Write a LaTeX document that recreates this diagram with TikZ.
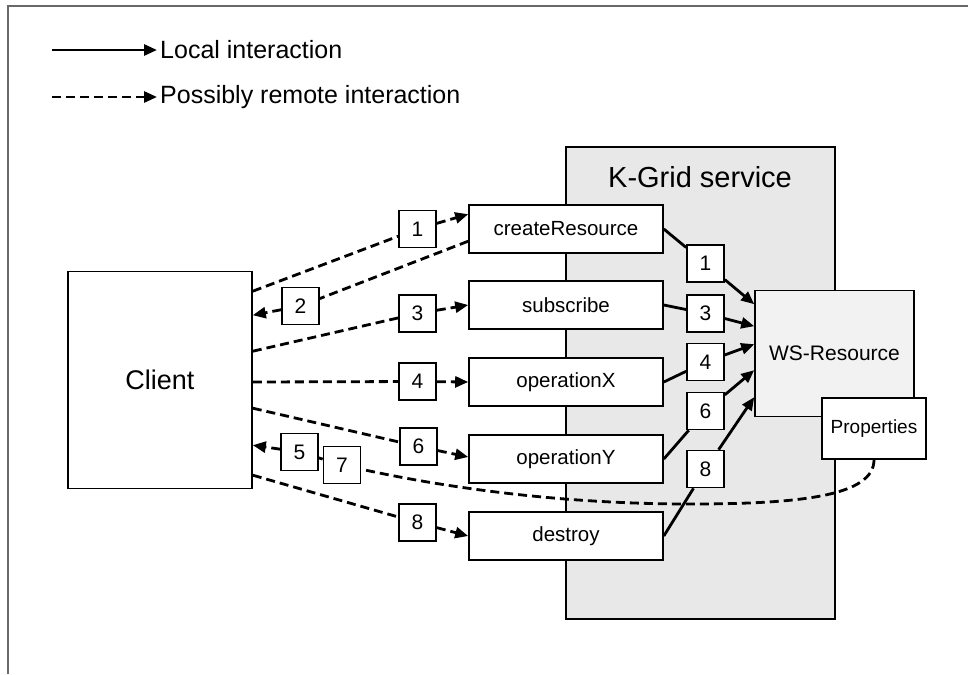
\documentclass[tikz,border=0pt]{standalone}
\usepackage{fontspec}
\setmainfont{Liberation Sans}
\usepackage{tikz}
\definecolor{servicegray}{RGB}{232,232,232}
\definecolor{resourcegray}{RGB}{242,242,242}
\definecolor{framegray}{RGB}{105,105,105}
\usetikzlibrary{arrows.meta,positioning,calc}

\begin{document}
\begin{tikzpicture}[x=1pt,y=-1pt,
    opbox/.style={
        rectangle,
        draw,
        line width=1.6pt,
        fill=white,
        minimum width=194pt,
        minimum height=48pt,
        inner sep=0pt,
        font=\fontsize{20.5}{24}\selectfont
    },
    numbox/.style={
        rectangle,
        draw,
        line width=1.6pt,
        fill=white,
        minimum size=37pt,
        inner sep=0pt,
        font=\fontsize{21}{24}\selectfont
    },
    legendtext/.style={anchor=west, inner sep=3pt, font=\fontsize{25}{30}\selectfont},
    localarrow/.style={-{Triangle[length=13pt,width=11pt]},line width=2.8pt},
    remotearrow/.style={localarrow, dash pattern=on 9pt off 5pt}
]
    \useasboundingbox (0,0) rectangle (968,674);
    \draw[framegray, line width=2pt] (8,674) -- (8,6) -- (968,6);

    % Legend
    \coordinate (localstart) at (52,50);
    \coordinate (remotestart) at (52,97);
    \node[legendtext] (localtext) at (157,50) {Local interaction};
    \node[legendtext] (remotetext) at (157,97) {Possibly remote interaction};
    \draw[localarrow] (localstart) -- (localtext.west);
    \draw[remotearrow] (remotestart) -- (remotetext.west);

    % Service and resource
    \node[draw, line width=1.6pt, fill=servicegray, minimum width=269pt, minimum height=472pt, inner sep=0pt] (kgrid) at (700.5,383) {};
    \node[font=\fontsize{29}{34}\selectfont] (kgridtitle) at (700,177) {K-Grid service};
    \node[draw, line width=1.6pt, fill=white, minimum width=184pt, minimum height=217pt, inner sep=0pt, font=\fontsize{27}{32}\selectfont] (client) at (160,380) {Client};
    \node[draw, line width=1.6pt, fill=resourcegray, minimum width=159pt, minimum height=126pt, inner sep=0pt, font=\fontsize{21}{25}\selectfont] (wsres) at (834.5,353.5) {WS-Resource};
    \node[draw, line width=1.6pt, fill=white, minimum width=104pt, minimum height=61pt, inner sep=0pt, font=\fontsize{19}{23}\selectfont] (props) at (874,428.5) {Properties};

    % Operations
    \node[opbox] (create) at (566,229) {createResource};
    \node[opbox] (subscribe) at (566,305) {subscribe};
    \node[opbox] (opx) at (566,382) {operationX};
    \node[opbox] (opy) at (566,459) {operationY};
    \node[opbox] (destroy) at (566,536) {destroy};

    % Step numbers
    \node[numbox] (l1) at (417.5,229) {1};
    \node[numbox] (l2) at (300.5,306) {2};
    \node[numbox] (l3) at (417.5,313.5) {3};
    \node[numbox] (l4) at (417.5,381.5) {4};
    \node[numbox] (l5) at (299.5,452) {5};
    \node[numbox] (l6) at (418.5,446.5) {6};
    \node[numbox] (l7) at (342,465) {7};
    \node[numbox] (l8) at (417.5,522.5) {8};
    \node[numbox] (r1) at (705.5,263.5) {1};
    \node[numbox] (r3) at (705.5,313.5) {3};
    \node[numbox] (r4) at (705.5,362) {4};
    \node[numbox] (r6) at (705.5,411) {6};
    \node[numbox] (r8) at (705.5,469) {8};

    % Remote calls
    \draw[remotearrow] ([yshift=-20.5pt]client.north east) -- (l1) -- ([yshift=-10pt]create.north west);
    \draw[remotearrow] ([yshift=-37pt]create.north west) -- (l2) -- ([yshift=-44.5pt]client.north east);
    \draw[remotearrow] ([yshift=-80.5pt]client.north east) -- (l3) -- (subscribe.west);
    \draw[remotearrow] ([yshift=-2pt]client.east) -- (l4) -- (opx.west);
    \draw[remotearrow] ([yshift=-137.5pt]client.north east) -- (l6) -- ([yshift=2pt]opy.west);
    \draw[remotearrow] ([yshift=-204.5pt]client.north east) -- (l8) -- (destroy.west);

    % Notification
    \coordinate (notebend) at (690,504);
    \draw[remotearrow] (props.south) .. controls (874,496) and (800,504) .. (notebend)
        .. controls (540,504) and (420,482) .. (l7) -- (l5) -- ([yshift=-174.5pt]client.north east);

    % Local calls
    \draw[localarrow] (create.east) -- (r1) -- ([yshift=-14.5pt]wsres.north west);
    \draw[localarrow] (subscribe.east) -- (r3) -- ([yshift=-36.5pt]wsres.north west);
    \draw[localarrow] (opx.east) -- (r4) -- ([yshift=-54.5pt]wsres.north west);
    \draw[localarrow] (opy.east) -- (r6) -- ([yshift=-80.5pt]wsres.north west);
    \draw[localarrow] (destroy.east) -- (r8) -- ([yshift=-107.5pt]wsres.north west);
\end{tikzpicture}
\end{document}
